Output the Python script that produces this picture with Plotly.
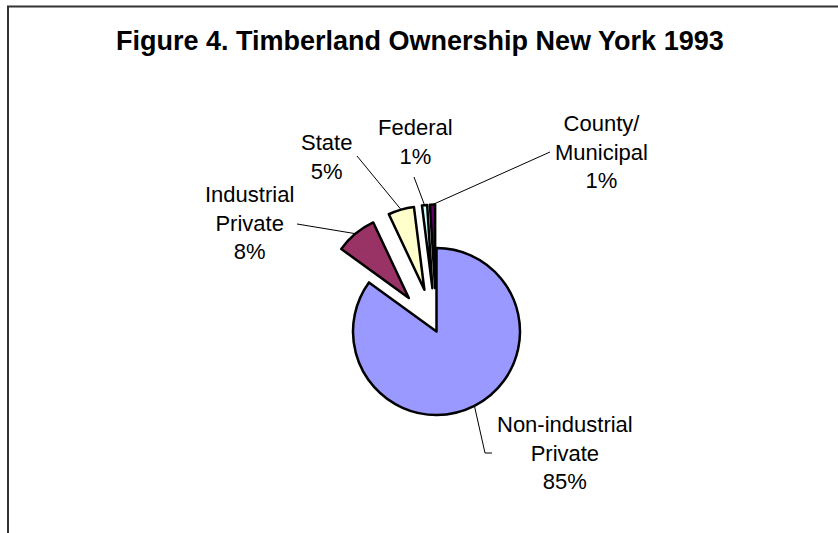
import math
import plotly.graph_objects as go

# Timberland ownership shares, New York 1993
owners = ["Non-industrial Private", "Industrial Private", "State", "Federal", "County/ Municipal"]
shares = [85, 8, 5, 1, 1]
label_lines = ["Non-industrial<br>Private", "Industrial<br>Private", "State", "Federal", "County/<br>Municipal"]
slice_colors = ["#9999FF", "#993366", "#FFFFCC", "#CCFFFF", "#660066"]
explode = [0, 0.52, 0.52, 0.52, 0.52]

W, H = 838, 533
FONT = "Liberation Sans, Arial, sans-serif"

# pie placement in pixels: centre and radius of the unexploded circle
cx, cy, r = 436.5, 331.5, 83.5
side = 2 * r * (1 + max(explode))
dom_x = [(cx - side / 2) / W, (cx + side / 2) / W]
dom_y = [1 - (cy + side / 2) / H, 1 - (cy - side / 2) / H]


def px(x):
    return x / W


def py(y):
    return 1 - y / H


fig = go.Figure(
    go.Pie(
        labels=owners,
        values=shares,
        sort=False,
        direction="clockwise",
        rotation=0,
        pull=explode,
        marker=dict(colors=slice_colors, line=dict(color="black", width=2.5)),
        textinfo="none",
        hoverinfo="label+percent",
        showlegend=False,
        domain=dict(x=dom_x, y=dom_y),
    )
)

# outer edge point of each slice along its bisector (for leader lines)
total = sum(shares)
edge_pts = []
cum = 0
for v, p in zip(shares, explode):
    theta = math.radians(360 * (cum + v / 2) / total)
    d = (1 + p) * r
    edge_pts.append((cx + d * math.sin(theta), cy - d * math.cos(theta)))
    cum += v

# label centres and the label-side end of each leader line (pixels)
label_pos = [(565, 453), (249, 223), (326, 157), (415, 142), (601, 152)]
leader_ends = [
    [(485, 453), (492, 453)],
    [(297, 224)],
    [(357, 156)],
    [(414, 177)],
    [(550, 152)],
]

shapes = []
for (ex, ey), ends in zip(edge_pts, leader_ends):
    pts = [(ex, ey)] + ends
    path = "M " + " L ".join(f"{px(x):.5f},{py(y):.5f}" for x, y in pts)
    shapes.append(dict(type="path", xref="paper", yref="paper", path=path,
                       line=dict(color="black", width=1)))

# chart-area frame
shapes.append(dict(type="path", xref="paper", yref="paper",
                   path=f"M {px(8):.5f},-0.05 L {px(8):.5f},{py(6.5):.5f} L 1.05,{py(6.5):.5f}",
                   line=dict(color="#333333", width=2)))

annotations = []
for txt, v, (lx, ly) in zip(label_lines, shares, label_pos):
    annotations.append(dict(
        x=px(lx), y=py(ly), xref="paper", yref="paper",
        text=f"{txt}<br>{v}%", showarrow=False,
        xanchor="center", yanchor="middle", align="center",
        font=dict(family=FONT, size=22, color="black"),
    ))

annotations.append(dict(
    x=px(420), y=py(40.5), xref="paper", yref="paper",
    text="<b>Figure 4. Timberland Ownership New York 1993</b>", showarrow=False,
    xanchor="center", yanchor="middle",
    font=dict(family=FONT, size=27, color="black"),
))

fig.update_layout(
    width=W, height=H,
    margin=dict(l=0, r=0, t=0, b=0),
    paper_bgcolor="white",
    plot_bgcolor="white",
    shapes=shapes,
    annotations=annotations,
)

fig.write_html("out.html")
